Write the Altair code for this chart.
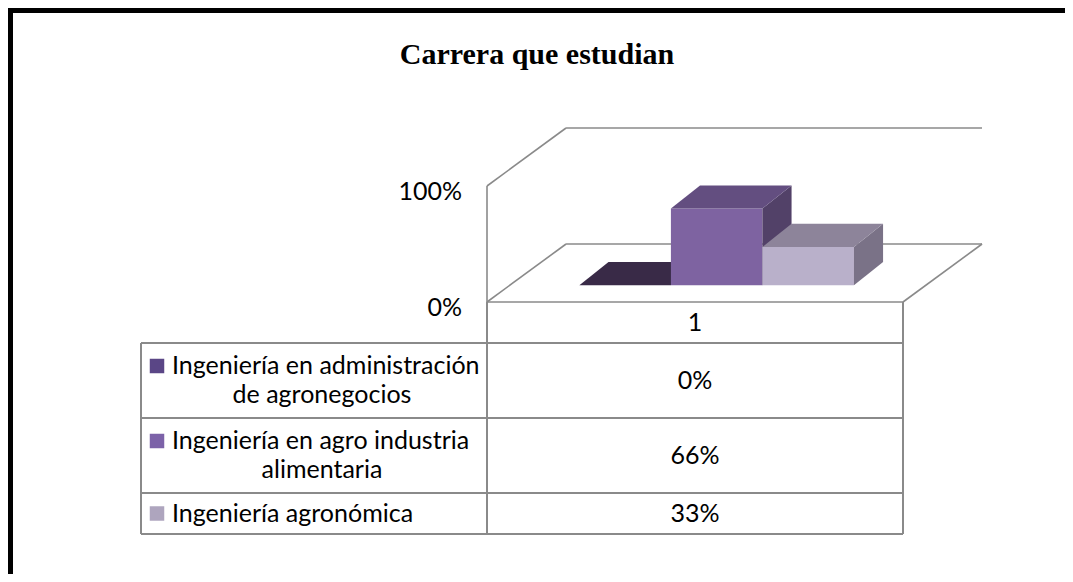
import altair as alt
import pandas as pd

# ---------------- data ----------------
TITLE = "Carrera que estudian"
CATEGORY = "1"
SERIES = [
    "Ingeniería en administración de agronegocios",
    "Ingeniería en agro industria alimentaria",
    "Ingeniería agronómica",
]
LABEL_LINES = [
    ["Ingeniería en administración", "de agronegocios"],
    ["Ingeniería en agro industria", "alimentaria"],
    ["Ingeniería agronómica"],
]
VALUES = [0.0, 0.66, 0.33]
VALUE_LABELS = ["0%", "66%", "33%"]
TICKS = [0.0, 1.0]
TICK_LABELS = ["0%", "100%"]

# ---------------- styles ----------------
FRONT = ["#4a3a60", "#7e63a1", "#b9b0ca"]
TOP = ["#392a47", "#634e80", "#8d849a"]
SIDE = ["#2e2240", "#524168", "#7a7287"]
MARKER = ["#5a4686", "#7c62a8", "#aea5be"]
LINE = "#8a8a8a"
FONT = "Lato"
FS = 25

W, H = 1057, 566
X_RANGE = [479, 895]   # category band (u 0..1) in view px
Y_RANGE = [294, 178]   # value 0..100 % in view px
DEPTH = (0.19, 0.5)    # floor depth in (u, v)
BAR_FRONT = 0.29       # fraction of floor depth where bars start
BAR_DEPTH = (0.07, 0.2)
BAR_START, BAR_W = 0.167, 0.22

xs = alt.Scale(domain=[0, 1], range=X_RANGE)
ys = alt.Scale(domain=[0, 1], range=Y_RANGE)


def px_to_v(py):
    return (Y_RANGE[0] - py) / (Y_RANGE[0] - Y_RANGE[1])


def px_to_u(px):
    return (px - X_RANGE[0]) / (X_RANGE[1] - X_RANGE[0])


def X(f, **kw):
    return alt.X(f, type="quantitative", scale=xs, axis=None, **kw)


def Y(f, **kw):
    return alt.Y(f, type="quantitative", scale=ys, axis=None, **kw)


layers = []

# frame border (top and left visible)
one = pd.DataFrame({"a": [0]})
layers.append(alt.Chart(one).mark_rule(color="#000000", strokeWidth=5).encode(
    x=alt.value(0), x2=alt.value(W), y=alt.value(2.5)))
layers.append(alt.Chart(one).mark_rule(color="#000000", strokeWidth=5).encode(
    x=alt.value(2.5), y=alt.value(0), y2=alt.value(H)))

# title
layers.append(alt.Chart(pd.DataFrame({"t": [TITLE]})).mark_text(
    font="Liberation Serif", fontWeight="bold", fontSize=30, color="#000000",
    align="center", baseline="middle").encode(
    x=alt.value(529), y=alt.value(47), text="t:N"))

# walls / floor gridlines
dx, dy = DEPTH
segs = []
for t in TICKS:
    segs.append((0, t, dx, t + dy))
    segs.append((dx, t + dy, 1 + dx, t + dy))
segs.append((0, min(TICKS), 0, max(TICKS)))
segs.append((1, 0, 1 + dx, dy))
segs.append((0, 0, 1, 0))
seg_df = pd.DataFrame(segs, columns=["u", "v", "u2", "v2"])
layers.append(alt.Chart(seg_df).mark_rule(color=LINE, strokeWidth=1.6).encode(
    x=X("u"), y=Y("v"), x2="u2", y2="v2"))

# axis tick labels
tick_df = pd.DataFrame({"v": TICKS, "lab": TICK_LABELS})
layers.append(alt.Chart(tick_df).mark_text(
    font=FONT, fontSize=FS, color="#000000", align="right", baseline="middle", dy=6).encode(
    x=alt.value(454), y=Y("v"), text="lab:N"))

# 3D bars
ox, oy = BAR_FRONT * dx, BAR_FRONT * dy
bdx, bdy = BAR_DEPTH
for i, (name, val) in enumerate(zip(SERIES, VALUES)):
    x0 = BAR_START + i * BAR_W + ox
    x1 = x0 + BAR_W
    front = pd.DataFrame({"s": [name], "x0": [x0], "x1": [x1], "y0": [oy], "y1": [oy + val]})
    top = pd.DataFrame({"s": [name, name], "y": [oy + val, oy + val + bdy],
                        "xa": [x0, x0 + bdx], "xb": [x1, x1 + bdx]})
    side = pd.DataFrame({"s": [name, name], "x": [x1, x1 + bdx],
                         "ya": [oy, oy + bdy], "yb": [oy + val, oy + val + bdy]})
    if val > 0:
        layers.append(alt.Chart(front).mark_rect(color=FRONT[i]).encode(
            x=X("x0"), x2="x1", y=Y("y0"), y2="y1"))
        layers.append(alt.Chart(side).mark_area(orient="vertical", color=SIDE[i]).encode(
            x=X("x"), y=Y("ya", stack=None), y2="yb"))
    layers.append(alt.Chart(top).mark_area(orient="horizontal", color=TOP[i]).encode(
        y=Y("y"), x=X("xa", stack=None), x2="xb"))

# data table
ROW_PX = [294, 335, 410, 485, 526]
rows_v = [px_to_v(p) for p in ROW_PX]
left_u = px_to_u(133)
tab = []
for rv in rows_v[1:]:
    tab.append((left_u, rv, 1, rv))
tab.append((left_u, rows_v[1], left_u, rows_v[-1]))
tab.append((0, 0, 0, rows_v[-1]))
tab.append((1, 0, 1, rows_v[-1]))
tab_df = pd.DataFrame(tab, columns=["u", "v", "u2", "v2"])
layers.append(alt.Chart(tab_df).mark_rule(color=LINE, strokeWidth=2).encode(
    x=X("u"), y=Y("v"), x2="u2", y2="v2"))

# header category label and values
centers = [(rows_v[k] + rows_v[k + 1]) / 2 for k in range(len(rows_v) - 1)]
cell_df = pd.DataFrame({"u": [0.5] * 4, "v": centers, "t": [CATEGORY] + VALUE_LABELS})
layers.append(alt.Chart(cell_df).mark_text(
    font=FONT, fontSize=FS, color="#000000", align="center", baseline="middle").encode(
    x=X("u"), y=Y("v"), text="t:N"))

# legend labels with markers
first_rows, second_rows = [], []
off = 14.5 / (Y_RANGE[0] - Y_RANGE[1])
for k, lines in enumerate(LABEL_LINES):
    c = centers[k + 1]
    if len(lines) == 1:
        first_rows.append((lines[0], c, k))
    else:
        first_rows.append((lines[0], c + off, k))
        second_rows.append((lines[1], c - off, k))
fdf = pd.DataFrame(first_rows, columns=["t", "v", "k"])
sdf = pd.DataFrame(second_rows, columns=["t", "v", "k"])
layers.append(alt.Chart(fdf).mark_text(
    font=FONT, fontSize=FS, color="#000000", align="left", baseline="middle").encode(
    x=alt.value(164), y=Y("v"), text="t:N"))
layers.append(alt.Chart(sdf).mark_text(
    font=FONT, fontSize=FS, color="#000000", align="center", baseline="middle").encode(
    x=alt.value(314), y=Y("v"), text="t:N"))
mk_df = fdf.assign(s=SERIES)
layers.append(alt.Chart(mk_df).mark_square(size=210, opacity=1, filled=True).encode(
    x=alt.value(149), y=Y("v"),
    color=alt.Color("s:N", scale=alt.Scale(domain=SERIES, range=MARKER), legend=None)))

chart = alt.layer(*layers).properties(
    width=W, height=H, padding=0,
    autosize=alt.AutoSizeParams(type="none"),
    background="#ffffff",
).configure_view(stroke=None)

chart.save("out.html", embed_options={"renderer": "svg", "actions": False})
